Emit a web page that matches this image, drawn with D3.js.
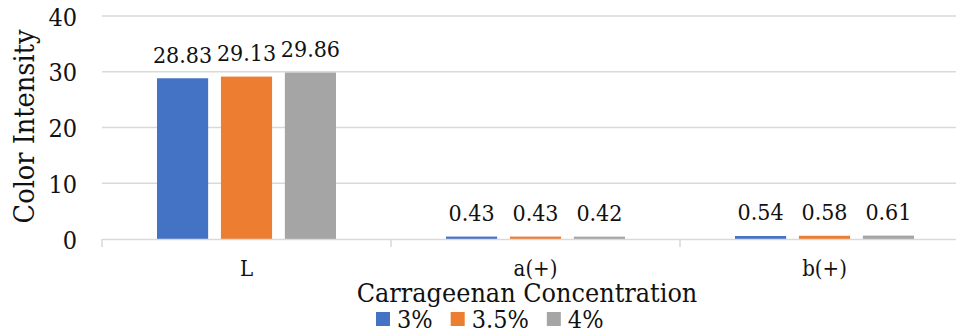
<!DOCTYPE html>
<html lang="en">
<head>
<meta charset="UTF-8"/>
<title>Color Intensity</title>
<script src="https://d3js.org/d3.v7.min.js"></script>
<style>
  body { margin: 0; background: #fff; }
  svg text { font-family: "DejaVu Serif Condensed", "DejaVu Serif", serif; fill: #111; }
</style>
</head>
<body>
<div id="chart"></div>
<script>
// data
var categories = ["L", "a(+)", "b(+)"];
var seriesNames = ["3%", "3.5%", "4%"];
var values3 = [28.83, 0.43, 0.54];
var values35 = [29.13, 0.43, 0.58];
var values4 = [29.86, 0.42, 0.61];
var yTicks = [0, 10, 20, 30, 40];
var colors = ["#4472C4", "#ED7D31", "#A5A5A5"];

var allSeries = [values3, values35, values4];

var w = 956, h = 336;

var svg = d3.select("#chart").append("svg")
  .attr("width", w)
  .attr("height", h);

// scales - the plot runs off the right edge like the original
var x0 = d3.scaleBand()
  .domain(categories)
  .range([102, 969])
  .padding(0);

var x1 = d3.scaleBand()
  .domain(d3.range(seriesNames.length))
  .range([55, x0.bandwidth() - 55])
  .paddingInner(0.2)
  .paddingOuter(0);

var y = d3.scaleLinear()
  .domain([0, 40])
  .range([239, 16]);

// gridlines
svg.append("g")
  .selectAll("line")
  .data(yTicks.slice(1))
  .enter()
  .append("line")
  .attr("x1", 102)
  .attr("x2", 969)
  .attr("y1", function(d) { return y(d); })
  .attr("y2", function(d) { return y(d); })
  .attr("stroke", "#d9d9d9")
  .attr("stroke-width", 1.5);

// y axis labels
var yAxis = d3.axisLeft(y)
  .tickValues(yTicks)
  .tickSize(0)
  .tickPadding(25);

var gy = svg.append("g")
  .attr("transform", "translate(102,0)")
  .call(yAxis);
gy.select(".domain").remove();
gy.selectAll("text")
  .attr("font-size", 25)
  .attr("dy", "0.36em")
  .attr("font-family", null)
  .attr("fill", "#111");

// bars
var groups = svg.selectAll(".grp")
  .data(categories)
  .enter()
  .append("g")
  .attr("class", "grp")
  .attr("transform", function(d) { return "translate(" + x0(d) + ",0)"; });

groups.selectAll("rect")
  .data(function(d, i) {
    return allSeries.map(function(s, j) { return { s: j, v: s[i] }; });
  })
  .enter()
  .append("rect")
  .attr("x", function(d) { return x1(d.s); })
  .attr("y", function(d) { return y(d.v); })
  .attr("width", x1.bandwidth())
  .attr("height", function(d) { return y(0) - y(d.v); })
  .attr("fill", function(d) { return colors[d.s]; });

// value labels
groups.selectAll("text")
  .data(function(d, i) {
    return allSeries.map(function(s, j) { return { s: j, v: s[i] }; });
  })
  .enter()
  .append("text")
  .attr("x", function(d) { return x1(d.s) + x1.bandwidth() / 2; })
  .attr("y", function(d) { return y(d.v) - 15.5; })
  .attr("text-anchor", "middle")
  .attr("font-size", 23)
  .text(function(d) { return d.v.toFixed(2); });

// x axis
var xAxis = d3.axisBottom(x0)
  .tickSize(0)
  .tickPadding(21.5);

var gx = svg.append("g")
  .attr("transform", "translate(0," + y(0) + ")")
  .call(xAxis);
gx.select(".domain")
  .attr("stroke", "#d9d9d9")
  .attr("stroke-width", 1.5);
gx.selectAll("text")
  .attr("font-size", 22)
  .attr("font-family", null)
  .attr("fill", "#111");

// category separators
gx.selectAll(".sep")
  .data(categories)
  .enter()
  .append("line")
  .attr("class", "sep")
  .attr("x1", function(d) { return x0(d); })
  .attr("x2", function(d) { return x0(d); })
  .attr("y1", 0)
  .attr("y2", 8)
  .attr("stroke", "#d9d9d9")
  .attr("stroke-width", 1.5);

// y title
svg.append("text")
  .attr("transform", "translate(34,126.5) rotate(-90)")
  .attr("text-anchor", "middle")
  .attr("font-size", 28.5)
  .text("Color Intensity");

// x title
svg.append("text")
  .attr("x", 527)
  .attr("y", 301.5)
  .attr("text-anchor", "middle")
  .attr("font-size", 26.7)
  .text("Carrageenan Concentration");

// legend
var lx = 376;
var legend = svg.append("g");
seriesNames.forEach(function(name, i) {
  legend.append("rect")
    .attr("x", lx)
    .attr("y", 312)
    .attr("width", 14)
    .attr("height", 14)
    .attr("fill", colors[i]);
  var t = legend.append("text")
    .attr("x", lx + 21)
    .attr("y", 328)
    .attr("font-size", 25)
    .text(name);
  lx = lx + 21 + t.node().getComputedTextLength() + 18;
});
</script>
</body>
</html>
